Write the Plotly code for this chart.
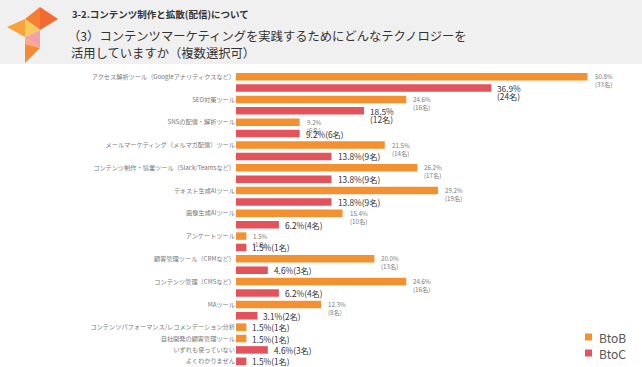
import plotly.graph_objects as go

# ---------------- data ----------------
categories = [
    "アクセス解析ツール（Googleアナリティクスなど）",
    "SEO対策ツール",
    "SNSの配信・解析ツール",
    "メールマーケティング（メルマガ配信）ツール",
    "コンテンツ制作・協業ツール（Slack/Teamsなど）",
    "テキスト生成AIツール",
    "画像生成AIツール",
    "アンケートツール",
    "顧客管理ツール（CRMなど）",
    "コンテンツ管理（CMSなど）",
    "MAツール",
    "コンテンツパフォーマンス/レコメンデーション分析",
    "自社開発の顧客管理ツール",
    "いずれも使っていない",
    "よくわかりません",
]
btob_pct = [50.8, 24.6, 9.2, 21.5, 26.2, 29.2, 15.4, 1.5, 20.0, 24.6, 12.3, 1.5, 1.5, None, None]
btob_n = [33, 16, 6, 14, 17, 19, 10, 1, 13, 16, 8, 1, 1, None, None]
btoc_pct = [36.9, 18.5, 9.2, 13.8, 13.8, 13.8, 6.2, 1.5, 4.6, 6.2, 3.1, None, None, 4.6, 1.5]
btoc_n = [24, 12, 6, 9, 9, 9, 4, 1, 3, 4, 2, None, None, 3, 1]
series_names = ["BtoB", "BtoC"]

title_small = "3-2.コンテンツ制作と拡散(配信)について"
title_line1 = "（3）コンテンツマーケティングを実践するためにどんなテクノロジーを"
title_line2 = "活用していますか（複数選択可）"

# ---------------- style ----------------
C_BTOB = "#F39130"
C_BTOC = "#E2535B"
FONT = "Noto Sans CJK JP"
W_FIG, H_FIG = 642, 367
L, R, T, B = 236, 10, 71, 0
PW, PH = W_FIG - L - R, H_FIG - T - B
PX_PER_PCT = 6.92


def px(x):
    return (x - L) / PW


def py(y):
    return 1 - (y - T) / PH


# build bar slots (one slot per bar)
slots = []  # (series, pct, n, cat_idx)
tickvals, ticktext = [], []
for i, cat in enumerate(categories):
    first = True
    for s, pcts, ns in ((0, btob_pct, btob_n), (1, btoc_pct, btoc_n)):
        if pcts[i] is None:
            continue
        if first:
            tickvals.append(len(slots))
            ticktext.append(cat)
            first = False
        slots.append((s, pcts[i], ns[i], i))

fig = go.Figure()
for s, color in ((0, C_BTOB), (1, C_BTOC)):
    ys = [k for k, sl in enumerate(slots) if sl[0] == s]
    xs = [slots[k][1] for k in ys]
    fig.add_trace(go.Bar(
        x=xs, y=ys, orientation="h", name=series_names[s],
        marker=dict(color=color, line=dict(width=0)),
        width=0.66, showlegend=False, hoverinfo="x+name",
    ))

annotations = []
for k, (s, v, n, i) in enumerate(slots):
    both = btob_pct[i] is not None and btoc_pct[i] is not None
    if s == 0 and both:
        lines = [f"{v:.1f}%", f"({n}名)"]
        size, color, gap, shift = 6.2, "#7a7a7a", 8, 5
    else:
        if s == 1 and v >= 18:
            lines = [f"{v:.1f}%", f"({n}名)"]
        else:
            lines = [f"{v:.1f}%({n}名)"]
        size, color, gap, shift = 8.3, "#333333", 8, 4
    for j, t in enumerate(lines):
        annotations.append(dict(
            x=v, y=k, xref="x", yref="y", text=t, showarrow=False,
            xanchor="left", yanchor="middle", xshift=shift, yshift=-gap * j,
            font=dict(family=FONT, size=size, color=color),
        ))

# header texts
annotations += [
    dict(x=px(70), y=py(14), xref="paper", yref="paper", text=f"<b>{title_small}</b>",
         showarrow=False, xanchor="left", yanchor="middle",
         font=dict(family=FONT, size=9.5, color="#333333")),
    dict(x=px(66), y=py(36), xref="paper", yref="paper", text=title_line1,
         showarrow=False, xanchor="left", yanchor="middle",
         font=dict(family=FONT, size=12.3, color="#333333")),
    dict(x=px(69), y=py(53), xref="paper", yref="paper", text=title_line2,
         showarrow=False, xanchor="left", yanchor="middle",
         font=dict(family=FONT, size=12.3, color="#333333")),
]

shapes = [
    dict(type="rect", xref="paper", yref="paper", x0=px(0), x1=px(W_FIG),
         y0=py(64), y1=py(0), fillcolor="#F0F0F0", line=dict(width=0), layer="below"),
]


def tri(pts, color):
    path = "M " + " L ".join(f"{px(a)},{py(b)}" for a, b in pts) + " Z"
    return dict(type="path", xref="paper", yref="paper", path=path,
                fillcolor=color, line=dict(width=0))


shapes += [
    tri([(40, 7), (58, 19), (40, 30)], "#F26A30"),
    tri([(40, 7), (25, 19), (40, 30)], "#F57F33"),
    tri([(7, 27), (25, 19), (25, 37)], "#F7A23A"),
    tri([(25, 19), (40, 30), (25, 37)], "#F5CB5C"),
    tri([(25, 37), (40, 30), (40, 48)], "#F4A0A6"),
    tri([(25, 37), (40, 48), (25, 44)], "#F7A98A"),
    tri([(25, 44), (40, 48), (25, 63)], "#F58A35"),
]

# manual legend
for j, (name, color) in enumerate(zip(series_names, (C_BTOB, C_BTOC))):
    yc = 337 + 16 * j
    shapes.append(dict(type="rect", xref="paper", yref="paper",
                       x0=px(585), x1=px(592), y0=py(yc + 3.5), y1=py(yc - 3.5),
                       fillcolor=color, line=dict(width=0)))
    annotations.append(dict(x=px(597), y=py(yc), xref="paper", yref="paper", text=name,
                            showarrow=False, xanchor="left", yanchor="middle",
                            font=dict(family=FONT, size=12, color="#555555")))

fig.update_layout(
    width=W_FIG, height=H_FIG,
    margin=dict(l=L, r=R, t=T, b=B, pad=0),
    paper_bgcolor="white", plot_bgcolor="white",
    barmode="overlay", showlegend=False,
    xaxis=dict(range=[0, PW / PX_PER_PCT], visible=False, fixedrange=True),
    yaxis=dict(range=[len(slots) - 0.5, -0.5], tickvals=tickvals, ticktext=ticktext,
               showgrid=False, zeroline=False, showline=False, ticks="",
               tickfont=dict(family=FONT, size=6.2, color="#777777"), fixedrange=True),
    annotations=annotations, shapes=shapes,
    font=dict(family=FONT),
)

fig.write_html(
    "out.html",
    config={"displayModeBar": False},
    post_script="document.body.style.margin='0';document.body.style.overflow='hidden';",
)
